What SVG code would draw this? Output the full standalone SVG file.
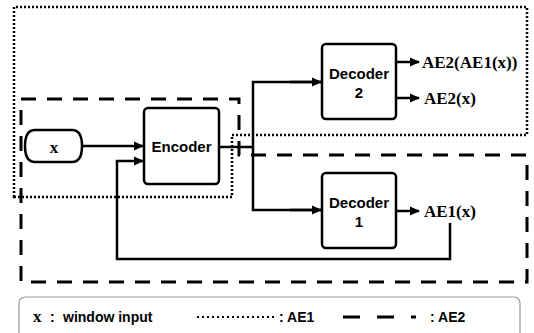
<svg xmlns="http://www.w3.org/2000/svg" width="534" height="333" viewBox="0 0 534 333">
<style>
.box{fill:#fff;stroke:#000;stroke-width:2.5}
.ln{fill:none;stroke:#000;stroke-width:2.5}
.dot{fill:none;stroke:#000;stroke-width:2.5;stroke-dasharray:2 2}
.dash{fill:none;stroke:#000;stroke-width:3;stroke-dasharray:15 11}
.sans{font-family:"Liberation Sans",Arial,sans-serif;font-weight:bold;font-size:15px}
.serif{font-family:"Liberation Serif","Times New Roman",serif;font-weight:bold;font-size:17px}
</style>
<defs>
<marker id="ah" markerWidth="10" markerHeight="10" refX="9" refY="5" orient="auto" markerUnits="userSpaceOnUse">
<path d="M0,0.5 L10,5 L0,9.5 Z" fill="#000"/>
</marker>
</defs>
<g id="regions">
<path class="dot" d="M14,197 L14,7 L527,7 L527,135 L232,135 L232,197 Z"/>
<path class="dash" d="M21,99 L239,99 L239,155 L527,155 L527,282 L21,282 Z"/>
</g>
<g id="connectors">
<line class="ln" x1="82" y1="146" x2="143" y2="146" marker-end="url(#ah)"/>
<polyline class="ln" points="450,223 450,259 117,259 117,161 143,161" marker-end="url(#ah)"/>
<line class="ln" x1="219" y1="147" x2="253" y2="147"/>
<polyline class="ln" points="321,82 253,82 253,210 321,210"/>
<line class="ln" x1="290" y1="82" x2="321" y2="82" marker-end="url(#ah)"/>
<line class="ln" x1="290" y1="210" x2="321" y2="210" marker-end="url(#ah)"/>
<line class="ln" x1="396" y1="62" x2="419" y2="62" marker-end="url(#ah)"/>
<line class="ln" x1="396" y1="98" x2="419" y2="98" marker-end="url(#ah)"/>
<line class="ln" x1="396" y1="211" x2="419" y2="211" marker-end="url(#ah)"/>
</g>
<g id="input-x">
<path class="box" d="M35,130 H72 Q82,130 82,146 Q82,162 72,162 H35 Q25,162 25,146 Q25,130 35,130 Z"/>
<text class="serif" x="54" y="153" text-anchor="middle">x</text>
</g>
<g id="encoder">
<rect class="box" x="144" y="108" width="75" height="76" rx="4"/>
<text class="sans" x="181.5" y="152" text-anchor="middle">Encoder</text>
</g>
<g id="decoder2">
<rect class="box" x="322" y="44" width="74" height="75" rx="4"/>
<text class="sans" x="359" y="79" text-anchor="middle">Decoder</text>
<text class="sans" x="359" y="98" text-anchor="middle">2</text>
</g>
<g id="decoder1">
<rect class="box" x="322" y="173" width="74" height="75" rx="4"/>
<text class="sans" x="359" y="208" text-anchor="middle">Decoder</text>
<text class="sans" x="359" y="227" text-anchor="middle">1</text>
</g>
<g id="outputs">
<text class="serif" x="422" y="68">AE2(AE1(x))</text>
<text class="serif" x="424" y="104">AE2(x)</text>
<text class="serif" x="424" y="217">AE1(x)</text>
</g>
<g id="legend">
<rect x="19" y="297" width="501" height="44" rx="6" fill="#fff" stroke="#999" stroke-width="1.2"/>
<text class="serif" x="33" y="322">x</text>
<text class="sans" x="50" y="322" style="font-size:14px">:</text>
<text class="sans" x="63" y="322" style="font-size:14px">window input</text>
<line x1="197" y1="317" x2="274" y2="317" stroke="#000" stroke-width="2" stroke-dasharray="2 3"/>
<text class="sans" x="279" y="322" style="font-size:14px">:  AE1</text>
<line x1="343" y1="317" x2="416" y2="317" stroke="#000" stroke-width="3" stroke-dasharray="17 17"/>
<text class="sans" x="430" y="322" style="font-size:14px">:  AE2</text>
</g>
</svg>
